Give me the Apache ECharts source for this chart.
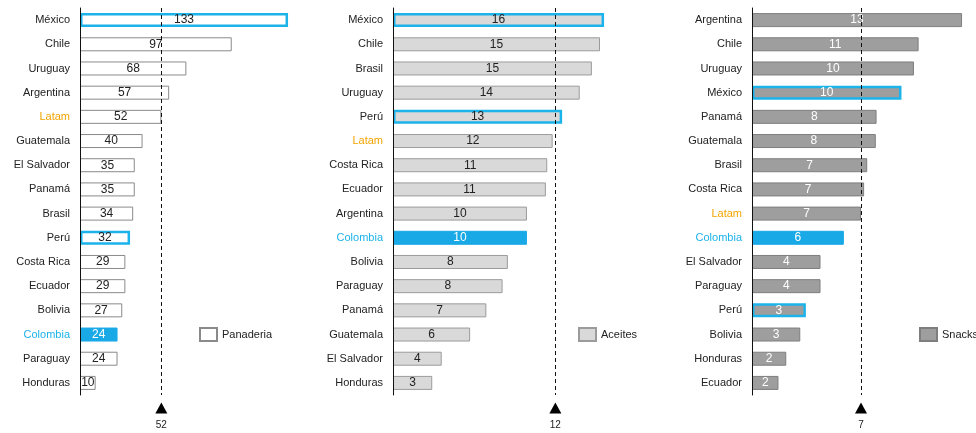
<!DOCTYPE html>
<html>
<head>
<meta charset="utf-8">
<script src="https://cdn.jsdelivr.net/npm/echarts@6/dist/echarts.min.js"></script>
<style>
html,body{margin:0;padding:0;background:#fff;}
#c{width:976px;height:433px;}
</style>
</head>
<body>
<div id="c"></div>
<script>
// ---- data ----
var panCats = ['México','Chile','Uruguay','Argentina','Latam','Guatemala','El Salvador','Panamá','Brasil','Perú','Costa Rica','Ecuador','Bolivia','Colombia','Paraguay','Honduras'];
var panVals = [133,97,68,57,52,40,35,35,34,32,29,29,27,24,24,10];
var panAvg = 52;

var aceCats = ['México','Chile','Brasil','Uruguay','Perú','Latam','Costa Rica','Ecuador','Argentina','Colombia','Bolivia','Paraguay','Panamá','Guatemala','El Salvador','Honduras'];
var aceVals = [15.6,15.3,14.7,13.8,12.5,11.8,11.4,11.3,9.9,9.9,8.49,8.1,6.9,5.7,3.6,2.9];
var aceAvg = 12;

var snaCats = ['Argentina','Chile','Uruguay','México','Panamá','Guatemala','Brasil','Costa Rica','Latam','Colombia','El Salvador','Paraguay','Perú','Bolivia','Honduras','Ecuador'];
var snaVals = [13.49,10.7,10.4,9.6,8.0,7.95,7.4,7.2,7.0,5.9,4.4,4.4,3.46,3.1,2.2,1.7];
var snaAvg = 7;

var seriesNames = ['Panaderia','Aceites','Snacks'];
var highlighted = ['México','Perú'];

// ---- styles ----
var CYAN = '#1cb3ea';
var COLFILL = '#19a9e6';
var LATAM = '#f2a400';
var panels = [
  {cats: panCats, vals: panVals, avg: panAvg, left: 80, max: 140, width: 219,
   fill: '#ffffff', border: '#8a8a8a', label: '#222', legendLeft: 194},
  {cats: aceCats, vals: aceVals, avg: aceAvg, left: 393, max: 17, width: 230,
   fill: '#d9d9d9', border: '#9b9b9b', label: '#222', legendLeft: 573},
  {cats: snaCats, vals: snaVals, avg: snaAvg, left: 752, max: 14, width: 218,
   fill: '#9e9e9e', border: '#7e7e7e', label: '#ffffff', legendLeft: 914}
];

var FONT = 'Liberation Sans, Arial, Helvetica, sans-serif';
var grids = [], xAxes = [], yAxes = [], series = [], legends = [];

panels.forEach(function (p, i) {
  grids.push({left: p.left, top: 8, width: p.width, height: 387, containLabel: false});
  xAxes.push({type: 'value', gridIndex: i, min: 0, max: p.max, show: false});
  yAxes.push({
    type: 'category', gridIndex: i, inverse: true, z: 5,
    data: p.cats.map(function (c) {
      if (c === 'Latam') return {value: c, textStyle: {color: LATAM}};
      if (c === 'Colombia') return {value: c, textStyle: {color: CYAN}};
      return c;
    }),
    axisLine: {show: true, lineStyle: {color: '#111', width: 1}},
    axisTick: {show: false},
    splitLine: {show: false},
    axisLabel: {color: '#222', fontSize: 11, fontFamily: FONT, margin: 10}
  });
  series.push({
    type: 'bar', name: seriesNames[i], xAxisIndex: i, yAxisIndex: i,
    barWidth: 14,
    itemStyle: {color: p.fill, borderColor: p.border, borderWidth: 1},
    label: {show: true, position: 'inside', color: p.label, fontSize: 12, fontFamily: FONT,
      formatter: function (d) { return Math.round(d.value); }},
    data: p.vals.map(function (v, k) {
      var c = p.cats[k];
      if (c === 'Colombia') return {value: v, itemStyle: {color: COLFILL, borderColor: COLFILL}, label: {color: '#fff'}};
      if (highlighted.indexOf(c) >= 0) return {value: v, itemStyle: {borderColor: CYAN, borderWidth: 2.5}};
      return v;
    }),
    markLine: {
      silent: true, symbol: ['none', 'none'],
      label: {show: false},
      lineStyle: {color: '#111', type: [4, 3], width: 1},
      data: [{xAxis: p.avg}]
    },
    markPoint: {
      silent: true,
      symbol: 'triangle', symbolSize: [12, 11], symbolOffset: [0, 25],
      itemStyle: {color: '#000'},
      label: {show: true, position: 'bottom', distance: 7, color: '#222', fontSize: 10, fontFamily: FONT,
        formatter: function () { return String(Math.round(p.avg)); }},
      data: [{coord: [p.avg, p.cats.length - 1]}]
    }
  });
  legends.push({
    data: [seriesNames[i]], left: p.legendLeft, top: 322, orient: 'vertical',
    icon: 'rect', itemWidth: 17, itemHeight: 13, selectedMode: false,
    textStyle: {color: '#222', fontSize: 11, fontFamily: FONT}
  });
});

var chart = echarts.init(document.getElementById('c'), null, {renderer: 'canvas'});
chart.setOption({
  animation: false,
  backgroundColor: '#fff',
  grid: grids, xAxis: xAxes, yAxis: yAxes, series: series, legend: legends
});
</script>
</body>
</html>
